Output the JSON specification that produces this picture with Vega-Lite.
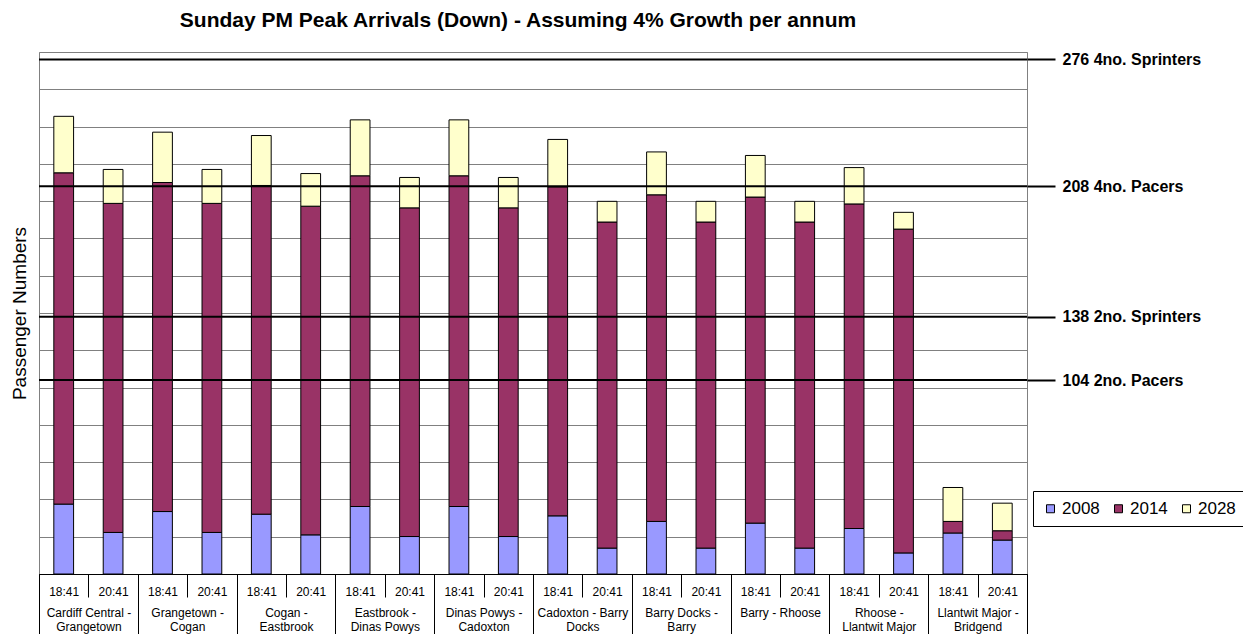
{
  "$schema": "https://vega.github.io/schema/vega-lite/v6.json",
  "autosize": {"type": "none"},
  "padding": {"left": 39, "top": 52, "right": 216, "bottom": 60},
  "width": 988,
  "height": 522,
  "config": {
    "font": "Liberation Sans",
    "view": {"stroke": "#808080", "strokeWidth": 1}
  },
  "title": {
    "text": "Sunday PM Peak Arrivals (Down) - Assuming 4% Growth per annum",
    "fontSize": 21,
    "fontWeight": "bold",
    "font": "Liberation Sans",
    "color": "black",
    "anchor": "middle",
    "frame": "group",
    "dx": -15,
    "offset": 20
  },
  "data": {
    "values": [
      {"bar": "Cardiff Central - Grangetown 18:41", "segment": "Cardiff Central - Grangetown", "2008": 37.5, "2014": 177.7, "2028": 30.3},
      {"bar": "Cardiff Central - Grangetown 20:41", "segment": "Cardiff Central - Grangetown", "2008": 22.3, "2014": 176.5, "2028": 18.2},
      {"bar": "Grangetown - Cogan 18:41", "segment": "Grangetown - Cogan", "2008": 33.5, "2014": 176.5, "2028": 27.0},
      {"bar": "Grangetown - Cogan 20:41", "segment": "Grangetown - Cogan", "2008": 22.3, "2014": 176.5, "2028": 18.2},
      {"bar": "Cogan - Eastbrook 18:41", "segment": "Cogan - Eastbrook", "2008": 32.1, "2014": 176.3, "2028": 26.8},
      {"bar": "Cogan - Eastbrook 20:41", "segment": "Cogan - Eastbrook", "2008": 21.0, "2014": 176.3, "2028": 17.5},
      {"bar": "Eastbrook - Dinas Powys 18:41", "segment": "Eastbrook - Dinas Powys", "2008": 36.2, "2014": 177.4, "2028": 30.0},
      {"bar": "Eastbrook - Dinas Powys 20:41", "segment": "Eastbrook - Dinas Powys", "2008": 20.1, "2014": 176.3, "2028": 16.3},
      {"bar": "Dinas Powys - Cadoxton 18:41", "segment": "Dinas Powys - Cadoxton", "2008": 36.2, "2014": 177.4, "2028": 30.0},
      {"bar": "Dinas Powys - Cadoxton 20:41", "segment": "Dinas Powys - Cadoxton", "2008": 20.1, "2014": 176.3, "2028": 16.3},
      {"bar": "Cadoxton - Barry Docks 18:41", "segment": "Cadoxton - Barry Docks", "2008": 31.2, "2014": 176.5, "2028": 25.4},
      {"bar": "Cadoxton - Barry Docks 20:41", "segment": "Cadoxton - Barry Docks", "2008": 13.9, "2014": 174.9, "2028": 11.1},
      {"bar": "Barry Docks - Barry 18:41", "segment": "Barry Docks - Barry", "2008": 28.2, "2014": 175.2, "2028": 23.0},
      {"bar": "Barry Docks - Barry 20:41", "segment": "Barry Docks - Barry", "2008": 13.9, "2014": 174.9, "2028": 11.1},
      {"bar": "Barry - Rhoose 18:41", "segment": "Barry - Rhoose", "2008": 27.3, "2014": 174.9, "2028": 22.3},
      {"bar": "Barry - Rhoose 20:41", "segment": "Barry - Rhoose", "2008": 13.9, "2014": 174.9, "2028": 11.1},
      {"bar": "Rhoose - Llantwit Major 18:41", "segment": "Rhoose - Llantwit Major", "2008": 24.4, "2014": 174.1, "2028": 19.5},
      {"bar": "Rhoose - Llantwit Major 20:41", "segment": "Rhoose - Llantwit Major", "2008": 11.3, "2014": 173.7, "2028": 9.0},
      {"bar": "Llantwit Major - Bridgend 18:41", "segment": "Llantwit Major - Bridgend", "2008": 22.0, "2014": 6.2, "2028": 18.2},
      {"bar": "Llantwit Major - Bridgend 20:41", "segment": "Llantwit Major - Bridgend", "2008": 18.2, "2014": 5.0, "2028": 14.8}
    ]
  },
  "layer": [
    {
      "mark": {"type": "bar", "opacity": 0},
      "encoding": {
        "x": {
          "field": "segment",
          "type": "nominal",
          "sort": null,
          "scale": {"paddingInner": 0, "paddingOuter": 0},
          "axis": {
            "orient": "bottom",
            "title": null,
            "labelExpr": "datum.label == 'Cadoxton - Barry Docks' ? ['Cadoxton - Barry', 'Docks'] : datum.label == 'Barry - Rhoose' ? datum.label : split(replace(datum.label, ' - ', ' -|'), '|')",
            "tickBand": "extent",
            "tickSize": 80,
            "tickColor": "black",
            "domainColor": "black",
            "labelAngle": 0,
            "labelBaseline": "top",
            "labelPadding": -47,
            "labelFontSize": 12,
            "labelLineHeight": 14,
            "labelColor": "black",
            "labelOverlap": false,
            "labelBound": false,
            "grid": false
          }
        }
      }
    },
    {
      "transform": [{"fold": ["2008", "2014", "2028"], "as": ["year", "passengers"]}],
      "mark": {"type": "bar", "stroke": "black", "strokeWidth": 1, "width": {"band": 0.4}},
      "encoding": {
        "x": {
          "field": "bar",
          "type": "nominal",
          "sort": null,
          "scale": {"paddingInner": 0, "paddingOuter": 0},
          "axis": {
            "orient": "bottom",
            "title": null,
            "labelExpr": "slice(datum.label, -5)",
            "tickBand": "extent",
            "tickSize": 23,
            "tickColor": "black",
            "domainColor": "black",
            "labelAngle": 0,
            "labelBaseline": "middle",
            "labelPadding": -6,
            "labelFontSize": 12,
            "labelColor": "black",
            "labelOverlap": false,
            "grid": false
          }
        },
        "y": {
          "field": "passengers",
          "type": "quantitative",
          "stack": "zero",
          "scale": {"domain": [0, 280], "nice": false},
          "axis": {
            "orient": "left",
            "title": "Passenger Numbers",
            "titleFontSize": 19,
            "titleFontWeight": "normal",
            "titleColor": "black",
            "titlePadding": 10,
            "values": [0, 20, 40, 60, 80, 100, 120, 140, 160, 180, 200, 220, 240, 260, 280],
            "labels": false,
            "ticks": false,
            "domain": false,
            "grid": true,
            "gridColor": "#808080",
            "gridWidth": 1
          }
        },
        "color": {
          "field": "year",
          "type": "nominal",
          "scale": {"domain": ["2008", "2014", "2028"], "range": ["#9999FF", "#993366", "#FFFFCC"]},
          "legend": {
            "title": null,
            "orient": "none",
            "legendX": 994,
            "legendY": 439,
            "direction": "horizontal",
            "strokeColor": "black",
            "fillColor": "white",
            "padding": 9,
            "symbolType": "square",
            "symbolSize": 64,
            "symbolStrokeColor": "black",
            "symbolStrokeWidth": 1,
            "labelFontSize": 17,
            "labelColor": "black",
            "labelOffset": 3,
            "columnPadding": 10
          }
        },
        "order": {"field": "year", "sort": "ascending"}
      }
    },
    {
      "data": {
        "values": [
          {"capacity": 276, "service": "4no. Sprinters"},
          {"capacity": 208, "service": "4no. Pacers"},
          {"capacity": 138, "service": "2no. Sprinters"},
          {"capacity": 104, "service": "2no. Pacers"}
        ]
      },
      "mark": {"type": "rule", "color": "black", "strokeWidth": 2},
      "encoding": {
        "y": {
          "field": "capacity",
          "type": "quantitative",
          "axis": {
            "orient": "right",
            "title": null,
            "values": [104, 138, 208, 276],
            "labelExpr": "datum.value == 276 ? '276 4no. Sprinters' : datum.value == 208 ? '208 4no. Pacers' : datum.value == 138 ? '138 2no. Sprinters' : '104 2no. Pacers'",
            "tickSize": 28,
            "tickWidth": 2,
            "tickColor": "black",
            "domain": false,
            "grid": false,
            "labelPadding": 7,
            "labelFontSize": 16,
            "labelFontWeight": "bold",
            "labelColor": "black",
            "labelOverlap": false,
            "labelBound": false,
            "labelFlush": false
          }
        }
      }
    }
  ],
  "resolve": {
    "scale": {"x": "independent"},
    "axis": {"x": "independent", "y": "independent"}
  }
}
